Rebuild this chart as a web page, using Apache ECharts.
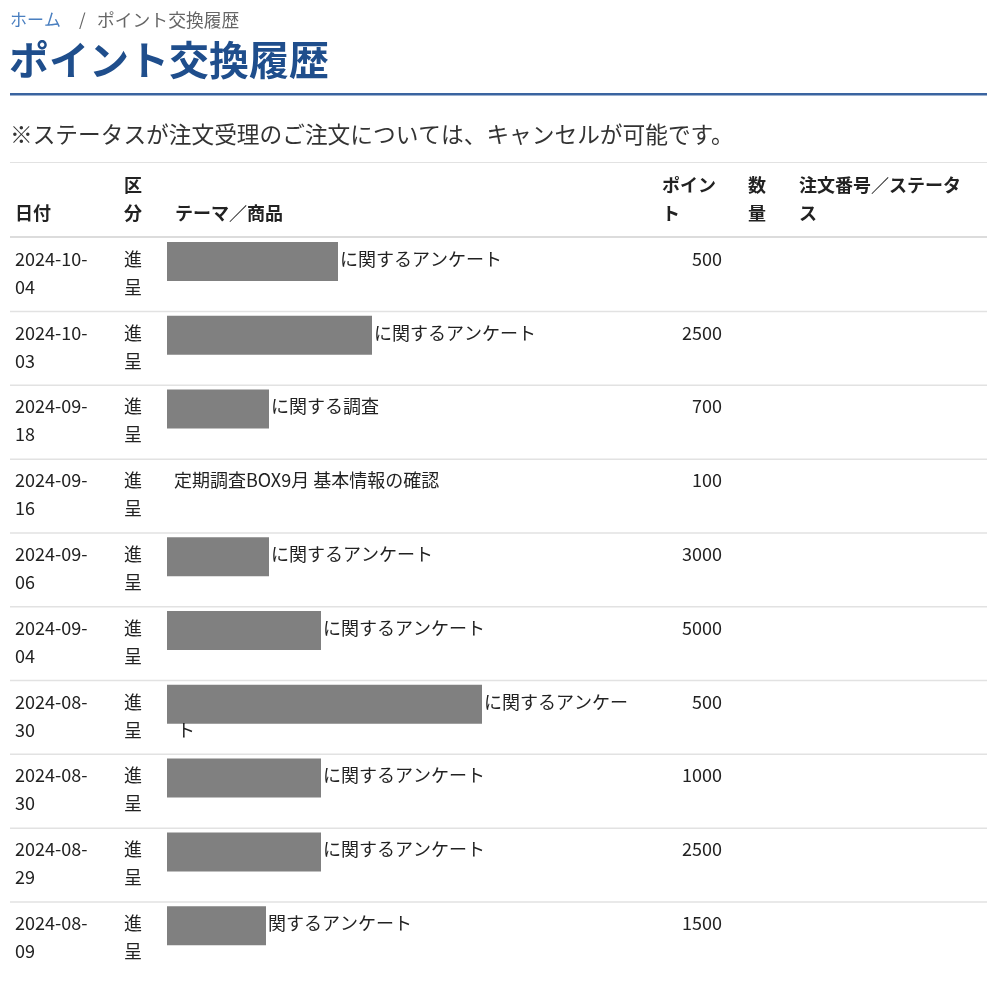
<!DOCTYPE html>
<html><head><meta charset="utf-8">
<script src="https://cdn.jsdelivr.net/npm/echarts@6/dist/echarts.min.js"></script>
<style>html,body{margin:0;padding:0;background:#fff}#c{width:1000px;height:983px}</style>
</head><body><div id="c"></div>
<script>
const breadcrumb = ['ホーム', '/', 'ポイント交換履歴'];
const pageTitle = 'ポイント交換履歴';
const note = '※ステータスが注文受理のご注文については、キャンセルが可能です。';
const headers = [['', '日付'], ['区', '分'], ['', 'テーマ／商品'], ['ポイン', 'ト'], ['数', '量'], ['注文番号／ステータ', 'ス']];
const dates = ['2024-10-04', '2024-10-03', '2024-09-18', '2024-09-16', '2024-09-06', '2024-09-04', '2024-08-30', '2024-08-30', '2024-08-29', '2024-08-09'];
const kinds = ['進呈', '進呈', '進呈', '進呈', '進呈', '進呈', '進呈', '進呈', '進呈', '進呈'];
const themes = [
  ['に関するアンケート'], ['に関するアンケート'], ['に関する調査'], ['定期調査BOX9月 基本情報の確認'],
  ['に関するアンケート'], ['に関するアンケート'], ['に関するアンケー', 'ト'], ['に関するアンケート'],
  ['に関するアンケート'], ['関するアンケート']
];
const maskWidth = [171, 205, 102, 0, 102, 154, 315, 154, 154, 99];
const points = [500, 2500, 700, 100, 3000, 5000, 500, 1000, 2500, 1500];

const FONT = '"Noto Sans CJK JP", "Noto Sans", sans-serif';
const BODY = 18;
const chart = echarts.init(document.getElementById('c'), null, {renderer: 'canvas'});

function txt(x, y, s, opt) {
  return Object.assign({type: 'text', x: x, y: y, style: Object.assign({
    text: s, fontFamily: FONT, fontSize: BODY, fill: '#222', textVerticalAlign: 'middle', textAlign: 'left'
  }, opt || {})});
}

const hdrX = [15, 124, 175, 662, 748, 799];
const graphics = [
  txt(10, 20, breadcrumb[0], {fill: '#4a7fc0', fontSize: 17}),
  txt(79, 20, breadcrumb[1], {fill: '#666', fontSize: 17}),
  txt(97, 20, breadcrumb[2], {fill: '#666', fontSize: 17.8}),
  txt(9, 60, pageTitle, {fill: '#1f4e8c', fontSize: 40, fontWeight: 'bold'}),
  {type: 'rect', shape: {x: 10, y: 93, width: 977, height: 2.5}, style: {fill: '#3a64a0'}},
  txt(10, 134, note, {fill: '#333', fontSize: 22.7}),
  {type: 'rect', shape: {x: 10, y: 162, width: 977, height: 1}, style: {fill: '#e2e2e2'}},
  {type: 'rect', shape: {x: 10, y: 236, width: 977, height: 2}, style: {fill: '#dcdcdc'}}
];
headers.forEach((h, i) => {
  if (h[0]) graphics.push(txt(hdrX[i], 185, h[0], {fontWeight: 'bold'}));
  graphics.push(txt(hdrX[i], 213, h[1], {fontWeight: 'bold'}));
});

const rows = dates.map((d, i) => [i]);

chart.setOption({
  animation: false,
  grid: {left: 0, right: 0, top: 238, height: 738},
  xAxis: {type: 'value', min: 0, max: 1000, show: false},
  yAxis: {type: 'value', min: 0, max: 10, inverse: true, show: false},
  graphic: graphics,
  series: [{
    type: 'custom',
    data: rows,
    encode: {y: 0},
    renderItem: function (params, api) {
      const i = api.value(0);
      const top = api.coord([0, i])[1];
      const bottom = api.coord([0, i + 1])[1];
      const X = v => api.coord([v, i])[0];
      const st = (s, extra) => Object.assign({text: s, fontFamily: FONT, fontSize: BODY, fill: '#222', textVerticalAlign: 'middle', textAlign: 'left'}, extra || {});
      const d = dates[i];
      const children = [
        {type: 'text', x: X(15), y: top + 21, style: st(d.slice(0, 8))},
        {type: 'text', x: X(15), y: top + 49, style: st(d.slice(8))},
        {type: 'text', x: X(124), y: top + 21, style: st(kinds[i][0])},
        {type: 'text', x: X(124), y: top + 49, style: st(kinds[i][1])},
        {type: 'text', x: X(722), y: top + 21, style: st(String(points[i]), {textAlign: 'right'})}
      ];
      const mw = maskWidth[i];
      if (mw > 0) {
        children.push({type: 'rect', shape: {x: X(167), y: top + 4, width: X(167 + mw) - X(167), height: 39}, style: {fill: '#808080'}});
      }
      const tx = mw > 0 ? X(167 + mw + 2) : X(174);
      children.push({type: 'text', x: tx, y: top + 21, style: st(themes[i][0])});
      if (themes[i][1]) children.push({type: 'text', x: X(177), y: top + 49, style: st(themes[i][1])});
      if (i < dates.length - 1) {
        children.push({type: 'rect', shape: {x: X(10), y: bottom - 1, width: X(987) - X(10), height: 1.5}, style: {fill: '#e2e2e2'}});
      }
      return {type: 'group', children: children};
    }
  }]
});
</script></body></html>
